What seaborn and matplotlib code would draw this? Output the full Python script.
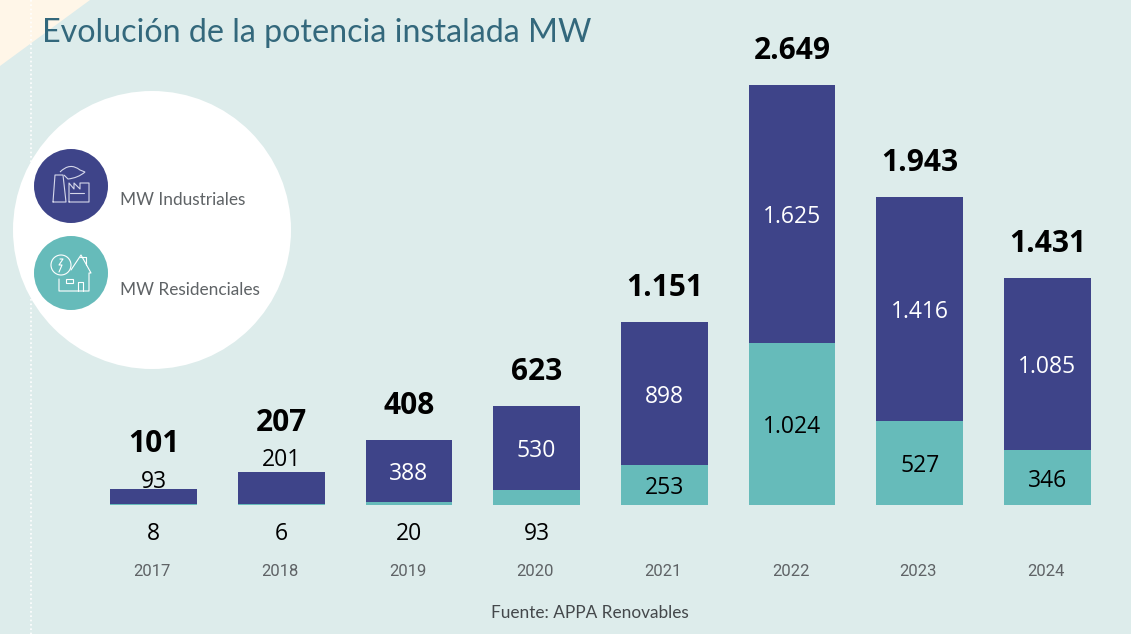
import matplotlib
matplotlib.use('Agg')
import matplotlib.pyplot as plt
from matplotlib.patches import Circle, Polygon, Rectangle
from matplotlib.path import Path
from matplotlib.patches import PathPatch
import pandas as pd
import seaborn as sns

# -- data ---------------------------------------------------
years       = ['2017', '2018', '2019', '2020', '2021', '2022', '2023', '2024']
industrial  = [93, 201, 388, 530, 898, 1625, 1416, 1085]
residential = [8, 6, 20, 93, 253, 1024, 527, 346]
totals      = [101, 207, 408, 623, 1151, 2649, 1943, 1431]

BG, CREAM  = '#DDECEB', '#FFF6E8'
NAVY, TEAL = '#3E4489', '#66BBBA'
TITLE_COL  = '#33687C'
GREY       = '#5F6366'
FONT       = 'Open Sans'
THIN_FONT  = 'Roboto'
PX         = 0.72    # points per pixel at dpi 100
NUDGE      = 3       # text sits a little lower than the pure centre

df = pd.DataFrame({'year': years, 'industrial': industrial,
                   'residential': residential, 'total': totals})


def thousands(v):
    return f'{v:,}'.replace(',', '.')


sns.set_theme(style='white')
plt.rcParams['font.family'] = [FONT, 'DejaVu Sans']

fig = plt.figure(figsize=(11.31, 6.34), dpi=100, facecolor=BG)

# -- decoration layer, in pixel coordinates -----------------
deco = fig.add_axes([0, 0, 1, 1], zorder=1)
deco.set_xlim(0, 1131); deco.set_ylim(634, 0)
deco.axis('off')
deco.add_patch(Polygon([(0, 0), (90, 0), (0, 66)], color=CREAM, lw=0))
deco.plot([31, 31], [0, 634], color='white', lw=1.2, ls=(0, (1, 1.6)))
deco.add_patch(Circle((152, 230), 139, color='white', lw=0))
deco.add_patch(Circle((71, 186), 37, color=NAVY, lw=0))
deco.add_patch(Circle((71, 273), 37, color=TEAL, lw=0))

# factory icon
ic = dict(color='#D5D7EA', lw=0.8)
deco.plot([53, 55, 63, 66, 53], [202, 175, 175, 202, 202], **ic)
deco.plot([69, 69, 74, 74, 80, 80, 89, 89, 69], [202, 183, 189, 183, 189, 183, 183, 202, 202], **ic)
deco.plot([70, 84], [193, 193], **ic)
leaf = Path([(60, 172), (70, 162), (80, 170), (85, 172), (78, 178), (68, 179), (64, 175)],
            [Path.MOVETO, Path.CURVE3, Path.CURVE3, Path.LINETO, Path.CURVE3, Path.CURVE3, Path.LINETO])
deco.add_patch(PathPatch(leaf, fill=False, ec='#D5D7EA', lw=0.8))
# house icon
ic = dict(color='white', lw=0.8)
deco.add_patch(Circle((61, 265), 10, fill=False, ec='white', lw=0.8))
deco.plot([60, 63, 59, 62, 59], [259, 259, 265, 265, 272], **ic)
deco.plot([71, 81, 91, 89, 89, 59, 59], [270, 255, 273, 273, 291, 291, 279], **ic)
deco.plot([80, 80, 86, 86], [257, 257, 257, 265], **ic)
deco.add_patch(Rectangle((66, 279), 7, 4, fill=False, ec='white', lw=0.8))
deco.plot([78, 78, 83, 83], [291, 282, 282, 291], **ic)

deco.text(42, 33, 'Evolución de la potencia instalada MW', color=TITLE_COL,
          fontsize=23.2, va='center', ha='left', family='Lato')
deco.text(120, 200, 'MW Industriales', color=GREY, fontsize=12.4, va='center', family='Lato')
deco.text(120, 290, 'MW Residenciales', color=GREY, fontsize=12.4, va='center', family='Lato')
deco.text(589.5, 613, 'Fuente: APPA Renovables', color='#44484B', fontsize=12.4,
          ha='center', va='center', family='Lato')

# -- bars: total in navy, residential drawn over it in teal --
ax = fig.add_axes([0, 0, 1, 1], zorder=2)
ax.patch.set_alpha(0)
sns.barplot(data=df, x='year', y='total', color=NAVY, saturation=1, width=0.68, linewidth=0, ax=ax)
sns.barplot(data=df, x='year', y='residential', color=TEAL, saturation=1, width=0.68, linewidth=0, ax=ax)
ax.set_xlim(-1.202, 7.654)
ax.set_ylim(-813, 3184)
ax.axis('off')

# -- labels --------------------------------------------------
for i, row in df.iterrows():
    ind, res, tot = row['industrial'], row['residential'], row['total']

    # total on top; the two smallest bars carry the navy value above them
    gap = {0: 48, 1: 52}.get(i, 37)
    ax.annotate(thousands(tot), (i, tot), xytext=(0, (gap - NUDGE) * PX), textcoords='offset points',
                ha='center', va='center', fontsize=21.5, fontweight='bold', color='black')

    if ind < 300:
        up = 10 if i == 0 else 15
        ax.annotate(thousands(ind), (i, tot), xytext=(0, (up - NUDGE) * PX), textcoords='offset points',
                    ha='center', va='center', fontsize=16.5, color='black')
    else:
        ax.annotate(thousands(ind), (i, res + ind / 2), xytext=(0, -NUDGE * PX), textcoords='offset points',
                    ha='center', va='center', fontsize=16.5, color='white')

    if res < 200:
        ax.annotate(thousands(res), (i, 0), xytext=(0, (-26 - NUDGE) * PX), textcoords='offset points',
                    ha='center', va='center', fontsize=16.5, color='black')
    else:
        ax.annotate(thousands(res), (i, res / 2), xytext=(0, -NUDGE * PX), textcoords='offset points',
                    ha='center', va='center', fontsize=16.5, color='black')

    ax.annotate(row['year'], (i, 0), xytext=(-1, -66 * PX), textcoords='offset points',
                ha='center', va='center', fontsize=12, color=GREY, family=THIN_FONT)

fig.savefig('out.png', dpi=100, facecolor=BG)
